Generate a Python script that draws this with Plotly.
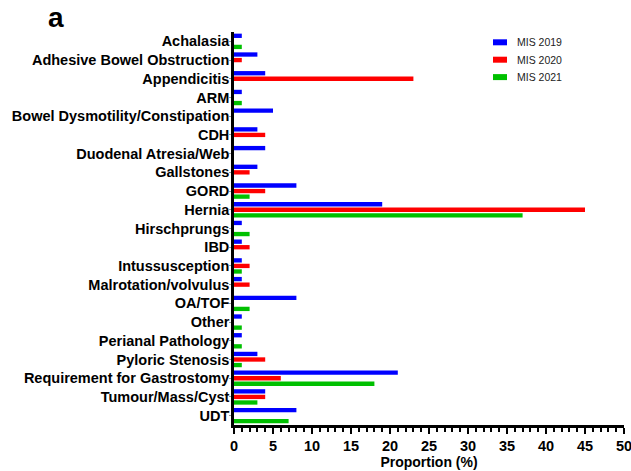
import plotly.graph_objects as go

categories = ["Achalasia", "Adhesive Bowel Obstruction", "Appendicitis", "ARM",
              "Bowel Dysmotility/Constipation", "CDH", "Duodenal Atresia/Web",
              "Gallstones", "GORD", "Hernia", "Hirschprungs", "IBD",
              "Intussusception", "Malrotation/volvulus", "OA/TOF", "Other",
              "Perianal Pathology", "Pyloric Stenosis",
              "Requirement for Gastrostomy", "Tumour/Mass/Cyst", "UDT"]

mis2019 = [1, 3, 4, 1, 5, 3, 4, 3, 8, 19, 1, 1, 1, 1, 8, 1, 1, 3, 21, 4, 8]
mis2020 = [0, 1, 23, 0, 0, 4, 0, 2, 4, 45, 0, 2, 2, 2, 0, 0, 0, 4, 6, 4, 0]
mis2021 = [1, 0, 0, 1, 0, 0, 0, 0, 2, 37, 2, 0, 1, 0, 2, 1, 1, 1, 18, 3, 7]

series_names = ["MIS 2019", "MIS 2020", "MIS 2021"]
colors = ["#0000FF", "#FF0000", "#00C000"]
x_ticks = [0, 5, 10, 15, 20, 25, 30, 35, 40, 45, 50]

fig = go.Figure()
for name, vals, col in zip(series_names, [mis2019, mis2020, mis2021], colors):
    fig.add_trace(go.Bar(
        y=categories, x=vals, orientation="h", name=name,
        marker=dict(color=col, line=dict(width=0)), showlegend=False,
    ))

font_family = "Liberation Sans, Arial, sans-serif"

L, R, T, B = 234, 7, 32, 46
W, H = 631, 471
plot_w = W - L - R
plot_h = H - T - B

fig.update_layout(
    width=W, height=H,
    margin=dict(l=L, r=R, t=T, b=B, autoexpand=False),
    plot_bgcolor="white", paper_bgcolor="white",
    barmode="group", bargap=0.11, bargroupgap=0.22,
    font=dict(family=font_family, color="black"),
    xaxis=dict(
        range=[0, 50], tickvals=x_ticks, showgrid=False, zeroline=False,
        showline=True, linecolor="black", linewidth=2.5,
        ticks="outside", ticklen=6, tickwidth=2, tickcolor="black",
        tickfont=dict(size=14.5, family=font_family, weight="bold"),
        ticklabeloverflow="allow",
        minor=dict(dtick=1, ticks="outside", ticklen=4, tickwidth=1.5, tickcolor="black"),
        title=dict(text="<b>Proportion (%)</b>", font=dict(size=14, family=font_family), standoff=4),
        automargin=False, fixedrange=True,
    ),
    yaxis=dict(
        categoryorder="array", categoryarray=categories, autorange="reversed",
        showgrid=False, zeroline=False,
        showline=True, linecolor="black", linewidth=2.5,
        ticks="outside", ticklen=2, tickwidth=1, tickcolor="#999999",
        tickfont=dict(size=14.5, family=font_family, weight="bold"),
        ticklabelstandoff=-3,
        automargin=False, fixedrange=True,
    ),
)

fig.add_annotation(text="<b>a</b>", xref="paper", yref="paper",
                   x=(46 - L) / plot_w, y=1 - (17 - T) / plot_h,
                   xanchor="left", yanchor="middle", showarrow=False,
                   font=dict(size=28, family=font_family, color="black"))

# Manual legend (wide rectangle swatches)
leg_x0 = (493 - L) / plot_w
leg_x1 = (507 - L) / plot_w
for i, (name, col) in enumerate(zip(series_names, colors)):
    yc = 42.3 + i * 17.4
    y_paper = 1 - (yc - T) / plot_h
    fig.add_shape(type="rect", xref="paper", yref="paper",
                  x0=leg_x0, x1=leg_x1, y0=y_paper - 3 / plot_h, y1=y_paper + 3 / plot_h,
                  fillcolor=col, line=dict(width=0))
    fig.add_annotation(text=name, xref="paper", yref="paper",
                       x=(515 - L) / plot_w, y=y_paper, xanchor="left", yanchor="middle",
                       showarrow=False, font=dict(size=10.5, family=font_family, color="#222222"))

fig.write_html("out.html", config={"displayModeBar": False},
               post_script="document.body.style.margin='0';document.body.style.overflow='hidden';")
